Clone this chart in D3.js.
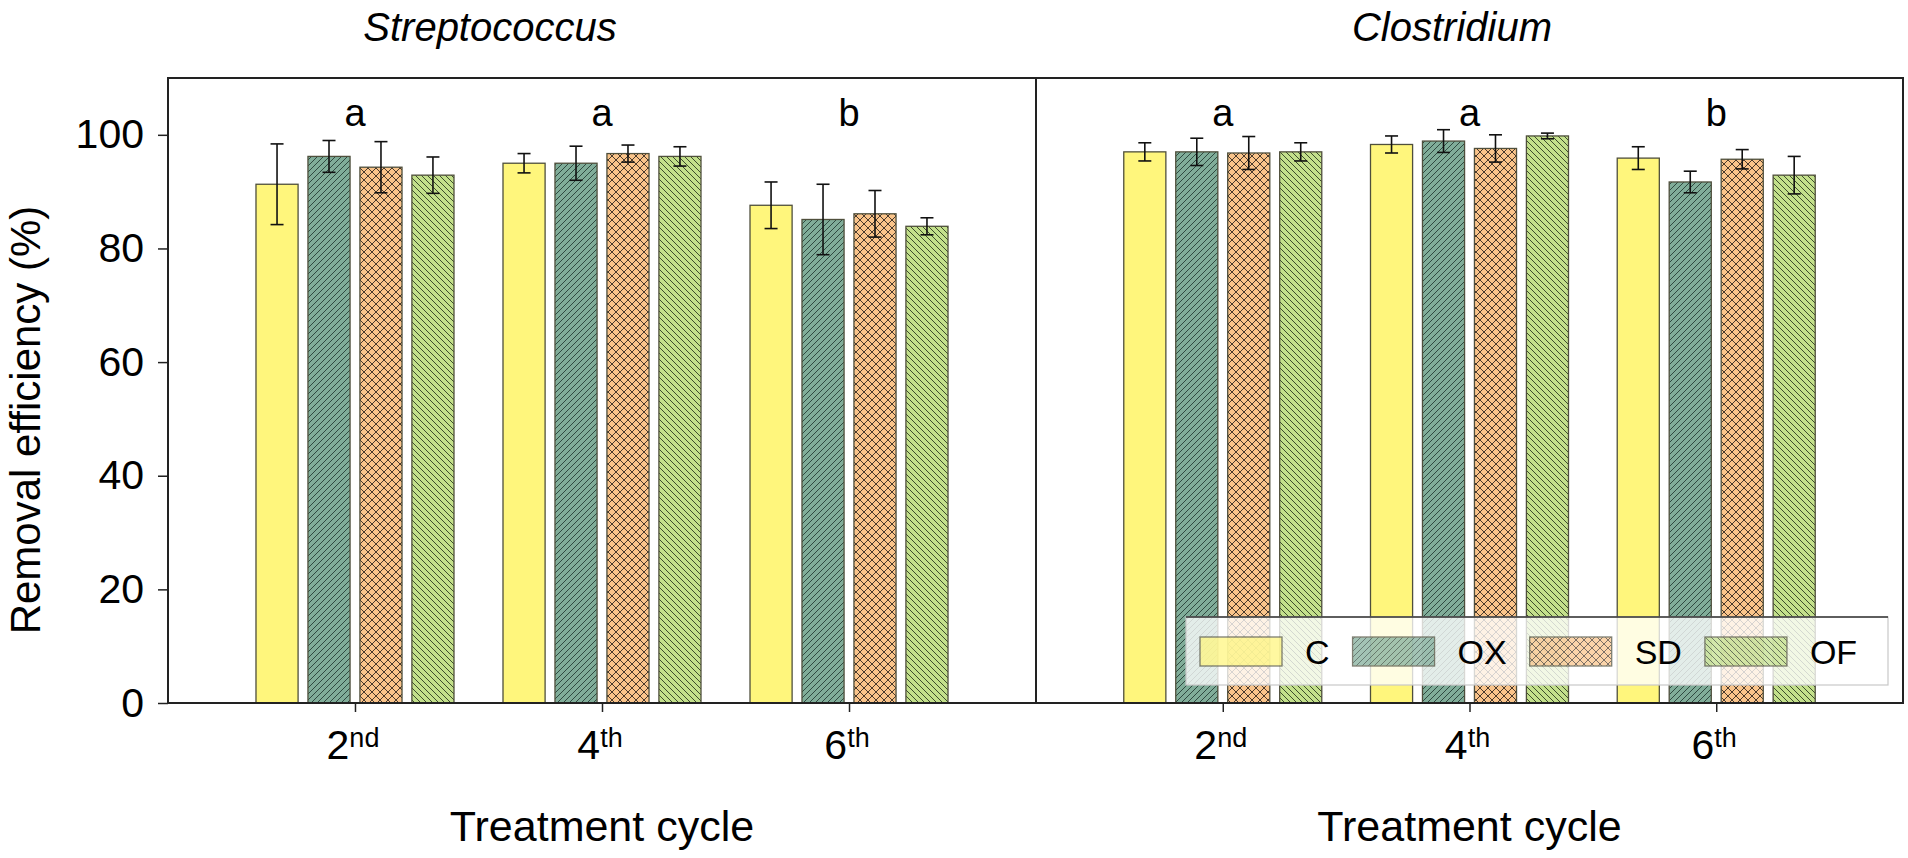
<!DOCTYPE html>
<html><head><meta charset="utf-8">
<script src="https://cdn.jsdelivr.net/npm/d3@7"></script>
<style>
html,body{margin:0;padding:0;background:#fff;}
svg{display:block;font-family:Arial,"Liberation Sans",sans-serif;}
</style></head>
<body>
<svg id="chart" width="1908" height="858"></svg>
<script>
// ---- data ----
const cycles = ["2", "4", "6"];
const cycleSuffix = ["nd", "th", "th"];
const series = ["C", "OX", "SD", "OF"];
const panelTitles = ["Streptococcus", "Clostridium"];
const letters = [["a", "a", "b"], ["a", "a", "b"]];
const yTicks = [0, 20, 40, 60, 80, 100];

// Streptococcus: rows = cycle, cols = series
const strepMean = [[91.3, 96.2, 94.3, 92.9], [95.0, 95.0, 96.7, 96.2], [87.6, 85.1, 86.1, 83.9]];
const strepErr  = [[7.1, 2.8, 4.5, 3.2], [1.7, 3.0, 1.5, 1.7], [4.1, 6.2, 4.1, 1.5]];
// Clostridium
const closMean = [[97.0, 97.0, 96.8, 97.0], [98.3, 98.9, 97.6, 99.8], [95.9, 91.7, 95.7, 92.9]];
const closErr  = [[1.6, 2.4, 2.9, 1.6], [1.5, 2.0, 2.4, 0.5], [2.0, 1.9, 1.7, 3.3]];

const panelMeans = [strepMean, closMean];
const panelErrs = [strepErr, closErr];

// ---- layout ----
const svg = d3.select("#chart");
const yTop = 78, yBot = 703;
const panels = [[168, 1036], [1036, 1903]];
const y = d3.scaleLinear().domain([0, 110]).range([yBot, yTop]);
const inner = d3.scaleBand().domain(series).range([-99, 99]).paddingInner(0.19);

const fills = {C: "#fff67c", OX: "#80ad99", SD: "#fac48a", OF: "#c3e08b"};

// ---- patterns ----
const defs = svg.append("defs");
function pat(id, size, bg, paths, stroke) {
  const p = defs.append("pattern").attr("id", id).attr("patternUnits", "userSpaceOnUse")
    .attr("width", size).attr("height", size);
  p.append("rect").attr("width", size).attr("height", size).attr("fill", bg);
  paths.forEach(d => p.append("path").attr("d", d).attr("stroke", stroke)
    .attr("stroke-width", 1).attr("fill", "none"));
}
defs.append("pattern").attr("id", "pC").attr("patternUnits", "userSpaceOnUse")
  .attr("width", 6).attr("height", 6)
  .append("rect").attr("width", 6).attr("height", 6).attr("fill", fills.C);
pat("pOX", 6, fills.OX, ["M-1.5,1.5 l3,-3 M0,6 l6,-6 M4.5,7.5 l3,-3"], "#2f4a40");
pat("pOF", 6, fills.OF, ["M-1.5,4.5 l3,3 M0,0 l6,6 M4.5,-1.5 l3,3"], "#3d4d2c");
pat("pSD", 8, fills.SD, ["M-2,2 l4,-4 M0,8 l8,-8 M6,10 l4,-4", "M-2,6 l4,4 M0,0 l8,8 M6,-2 l4,4"], "#4a3a2c");
const patId = s => "url(#p" + s + ")";

// ---- panels ----
panels.forEach((pr, pi) => {
  const [x0, x1] = pr;
  const x = d3.scalePoint().domain(cycles).range([x0, x1]).padding(0.757);
  const g = svg.append("g");

  // bars
  cycles.forEach((c, ci) => {
    series.forEach((s, si) => {
      const m = panelMeans[pi][ci][si];
      const e = panelErrs[pi][ci][si];
      const bx = x(c) + inner(s);
      g.append("rect").attr("x", bx).attr("y", y(m))
        .attr("width", inner.bandwidth()).attr("height", y(0) - y(m))
        .attr("fill", patId(s)).attr("stroke", "#4f4f3c").attr("stroke-width", 1.3);
      const cx = bx + inner.bandwidth() / 2;
      const eg = g.append("g").attr("stroke", "#111").attr("stroke-width", 1.6);
      eg.append("line").attr("x1", cx).attr("x2", cx).attr("y1", y(m - e)).attr("y2", y(m + e));
      [m - e, m + e].forEach(v => eg.append("line").attr("x1", cx - 6.5).attr("x2", cx + 6.5)
        .attr("y1", y(v)).attr("y2", y(v)));
    });
    // significance letter
    g.append("text").attr("x", x(c)).attr("y", 126).attr("text-anchor", "middle")
      .attr("font-size", 38).attr("fill", "#000").text(letters[pi][ci]);
  });

  // frame
  g.append("rect").attr("x", x0).attr("y", yTop).attr("width", x1 - x0).attr("height", yBot - yTop)
    .attr("fill", "none").attr("stroke", "#222").attr("stroke-width", 2);

  // x axis ticks
  const xa = g.append("g").attr("transform", `translate(0,${yBot})`)
    .call(d3.axisBottom(x).tickSize(9).tickFormat(""));
  xa.select(".domain").remove();
  xa.selectAll(".tick line").attr("stroke", "#222").attr("stroke-width", 1.5);
  cycles.forEach((c, ci) => {
    const t = g.append("text").attr("x", x(c) - 2).attr("y", 759).attr("text-anchor", "middle")
      .attr("fill", "#000");
    t.append("tspan").attr("font-size", 41).text(c);
    t.append("tspan").attr("font-size", 27).attr("dy", -12).text(cycleSuffix[ci]);
  });

  // x title
  g.append("text").attr("x", (x0 + x1) / 2).attr("y", 841).attr("text-anchor", "middle")
    .attr("font-size", 43).attr("fill", "#000").text("Treatment cycle");

  // panel title
  g.append("text").attr("x", pi === 0 ? 490 : 1452).attr("y", 41).attr("text-anchor", "middle")
    .attr("font-size", 40).attr("font-style", "italic").attr("fill", "#000").text(panelTitles[pi]);
});

// y axis
const ya = svg.append("g").attr("transform", `translate(${panels[0][0]},0)`)
  .call(d3.axisLeft(y).tickValues(yTicks).tickSize(10).tickPadding(14));
ya.select(".domain").remove();
ya.selectAll(".tick line").attr("stroke", "#222").attr("stroke-width", 1.5);
ya.selectAll(".tick text").attr("font-size", 41).attr("fill", "#000")
  .attr("font-family", "Arial, 'Liberation Sans', sans-serif");

svg.append("text").attr("transform", "translate(40,420) rotate(-90)").attr("text-anchor", "middle")
  .attr("font-size", 42).attr("fill", "#000").text("Removal efficiency (%)");

// legend
const lg = svg.append("g");
lg.append("rect").attr("x", 1186).attr("y", 617).attr("width", 702).attr("height", 68)
  .attr("fill", "#fff").attr("fill-opacity", 0.78).attr("stroke", "#c8c8c8").attr("stroke-width", 1.2);
lg.append("line").attr("x1", 1186).attr("x2", 1888).attr("y1", 617).attr("y2", 617)
  .attr("stroke", "#333").attr("stroke-width", 1.5);
let lx = 1200;
series.forEach(s => {
  lg.append("rect").attr("x", lx).attr("y", 637).attr("width", 82).attr("height", 29)
    .attr("fill", patId(s)).attr("stroke", "#4f4f3c").attr("stroke-width", 1.3).attr("opacity", 0.72);
  const t = lg.append("text").attr("x", lx + 105).attr("y", 664).attr("font-size", 34)
    .attr("fill", "#000").text(s);
  lx += 105 + t.node().getComputedTextLength() + 23;
});
</script>
</body></html>
